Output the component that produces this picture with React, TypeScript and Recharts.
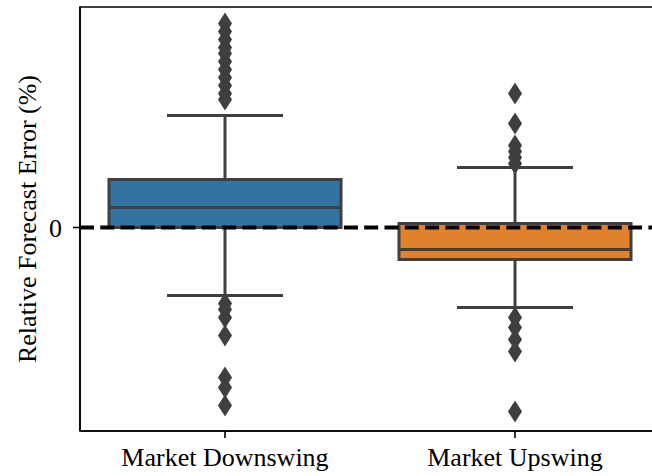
import React from 'react';
import { ComposedChart, Bar, Scatter, XAxis, YAxis, ReferenceLine, ReferenceArea } from 'recharts';

const categories = ['Market Downswing', 'Market Upswing'];
const whiskerLow = [-3.4, -4.0];
const q1 = [0.0, -1.6];
const median = [1.0, -1.1];
const q3 = [2.4, 0.2];
const whiskerHigh = [5.6, 3.0];
const boxColors = ['#3274A1', '#E1812C'];
const downswingOutliers = [10.2, 9.8, 9.4, 9.0, 8.7, 8.3, 7.9, 7.5, 7.1, 6.7, 6.4, -3.8, -4.1, -4.5, -5.4, -7.5, -8.0, -8.9];
const upswingOutliers = [6.7, 5.2, 4.1, 3.8, 3.5, 3.2, -4.5, -5.0, -5.6, -6.2, -9.2];
const yTicks = [0];
const yDomain = [-10.175, 11.025];

const boxData = categories.map((name, i) => ({
  name,
  range: [whiskerLow[i], whiskerHigh[i]],
  lo: whiskerLow[i],
  hi: whiskerHigh[i],
  q1: q1[i],
  median: median[i],
  q3: q3[i],
  color: boxColors[i],
}));

const outlierData = [
  ...downswingOutliers.map((v) => ({ name: categories[0], value: v })),
  ...upswingOutliers.map((v) => ({ name: categories[1], value: v })),
];

const EDGE = '#3f3f3f';
const FONT = '"Liberation Serif", "Times New Roman", serif';

const BoxShape = (props: any) => {
  const { x, y, width, height, payload } = props;
  const p = payload || props;
  const lo = p.lo;
  const hi = p.hi;
  const toPx = (v: number) => y + ((hi - v) / (hi - lo)) * height;
  const cx = x + width / 2;
  const capHalf = width / 4;
  const yq1 = toPx(p.q1);
  const yq3 = toPx(p.q3);
  const ymed = toPx(p.median);
  const ylo = toPx(lo);
  const yhi = toPx(hi);
  return (
    <g>
      <line x1={cx} x2={cx} y1={yhi} y2={yq3} stroke={EDGE} strokeWidth={3} />
      <line x1={cx} x2={cx} y1={yq1} y2={ylo} stroke={EDGE} strokeWidth={3} />
      <line x1={cx - capHalf} x2={cx + capHalf} y1={yhi} y2={yhi} stroke={EDGE} strokeWidth={3} />
      <line x1={cx - capHalf} x2={cx + capHalf} y1={ylo} y2={ylo} stroke={EDGE} strokeWidth={3} />
      <rect x={x} y={yq3} width={width} height={yq1 - yq3} fill={p.color} stroke={EDGE} strokeWidth={3} />
      <line x1={x} x2={x + width} y1={ymed} y2={ymed} stroke={EDGE} strokeWidth={3} />
    </g>
  );
};

const Diamond = (props: any) => {
  const { cx, cy } = props;
  if (cx == null || cy == null) return null;
  const w = 7;
  const h = 11;
  return (
    <polygon
      points={`${cx},${cy - h} ${cx + w},${cy} ${cx},${cy + h} ${cx - w},${cy}`}
      fill={EDGE}
    />
  );
};

export default function App() {
  return (
    <div style={{ position: 'absolute', left: 0, top: 0, width: 652, height: 476, overflow: 'hidden', background: '#fff' }}>
      <ComposedChart
        width={660}
        height={476}
        data={boxData}
        margin={{ top: 7, right: 0, bottom: 0, left: 0 }}
        barCategoryGap="10%"
      >
        <XAxis
          dataKey="name"
          type="category"
          allowDuplicatedCategory={false}
          height={45}
          tickSize={7}
          tickMargin={10}
          axisLine={{ stroke: '#000', strokeWidth: 1.6 }}
          tickLine={{ stroke: '#000', strokeWidth: 1.6 }}
          tick={{ fill: '#000', fontSize: 26, fontFamily: FONT }}
          interval={0}
        />
        <YAxis
          type="number"
          domain={yDomain}
          ticks={yTicks}
          allowDataOverflow
          width={80}
          tickSize={7}
          tickMargin={11}
          axisLine={{ stroke: '#000', strokeWidth: 1.6 }}
          tickLine={{ stroke: '#000', strokeWidth: 1.6 }}
          tick={{ fill: '#000', fontSize: 26, fontFamily: FONT }}
          label={{
            value: 'Relative Forecast Error (%)',
            angle: -90,
            position: 'insideLeft',
            offset: 0,
            dx: 27,
            style: { textAnchor: 'middle', fill: '#000', fontSize: 26, fontFamily: FONT },
          }}
        />
        <ReferenceArea
          y1={yDomain[0]}
          y2={yDomain[1]}
          fill="none"
          fillOpacity={0}
          stroke="#000"
          strokeWidth={1.6}
          ifOverflow="visible"
        />
        <Bar dataKey="range" shape={<BoxShape />} isAnimationActive={false} />
        <Scatter data={outlierData} dataKey="value" shape={<Diamond />} isAnimationActive={false} />
        <ReferenceLine y={0} stroke="#000" strokeWidth={4} strokeDasharray="14 6.3" />
      </ComposedChart>
    </div>
  );
}
